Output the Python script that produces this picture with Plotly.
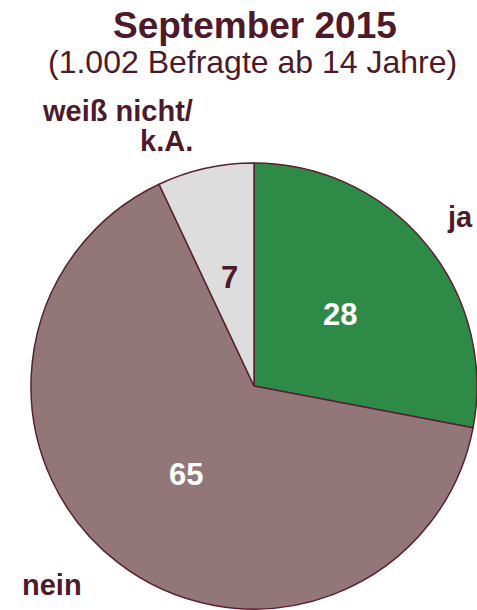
import math
import plotly.graph_objects as go

categories = ["ja", "nein", "weiß nicht/k.A."]
values = [28, 65, 7]
colors = ["#2E8B47", "#93767A", "#DEDDDD"]
value_text_colors = ["white", "white", "#4D1A2B"]

title = "September 2015"
subtitle = "(1.002 Befragte ab 14 Jahre)"

W, H = 477, 610
cx, cy, R = 254, 386, 223
dom_x = [max(0.0, (cx - R) / W), min(1.0, (cx + R) / W)]
dom_y = [max(0.0, (H - cy - R) / H), min(1.0, (H - cy + R) / H)]

FONT = "Liberation Sans, Arial, Helvetica, sans-serif"
dark = "#4D1A2B"

fig = go.Figure(go.Pie(
    labels=categories, values=values, sort=False, direction="clockwise",
    rotation=0, marker=dict(colors=colors, line=dict(color="#5A2030", width=1.5)),
    textinfo="none", hoverinfo="label+value", showlegend=False,
    domain=dict(x=dom_x, y=dom_y),
))


def px_ann(x, y, text, size, color=dark, xanchor="center"):
    return dict(x=x / W, y=1 - y / H, xref="paper", yref="paper", text=text,
                xanchor=xanchor, yanchor="middle", showarrow=False, borderpad=0,
                font=dict(size=size, color=color, family=FONT))


ann = []
total = sum(values)
cum = 0
for v, c in zip(values, value_text_colors):
    mid = (cum + v / 2) / total * 2 * math.pi
    cum += v
    r = 0.5 * R
    ann.append(px_ann(cx + r * math.sin(mid), cy - r * math.cos(mid), f"<b>{v}</b>", 31, c))

ann.append(px_ann(460, 217, f"<b>{categories[0]}</b>", 29))
ann.append(px_ann(52, 585, f"<b>{categories[1]}</b>", 29))
lab1, lab2 = categories[2].split("/")
ann.append(px_ann(194, 111, f"<b>{lab1}/</b>", 29, xanchor="right"))
ann.append(px_ann(194, 141, f"<b>{lab2}</b>", 29, xanchor="right"))
ann.append(px_ann(255, 25, f"<b>{title}</b>", 37))
ann.append(px_ann(252.5, 62, subtitle, 32))

fig.update_layout(width=W, height=H, margin=dict(l=0, r=0, t=0, b=0),
                  paper_bgcolor="white", plot_bgcolor="white", annotations=ann)
fig.write_html(
    "out.html",
    config={"displayModeBar": False},
    post_script="document.body.style.margin='0';"
                "document.documentElement.style.overflow='hidden';"
                "document.body.style.overflow='hidden';",
)
